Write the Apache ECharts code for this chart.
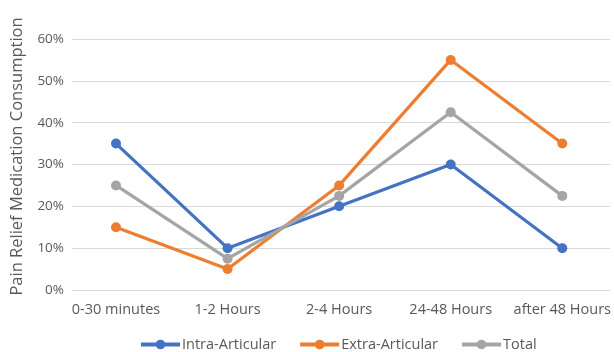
<!DOCTYPE html>
<html>
<head>
<meta charset="utf-8">
<script src="https://cdn.jsdelivr.net/npm/echarts@6/dist/echarts.min.js"></script>
<style>
  html, body { margin: 0; padding: 0; background: #fff; }
  #chart { width: 614px; height: 352px; }
</style>
</head>
<body>
<div id="chart"></div>
<script>
// Time windows after the procedure
const categories = ['0-30 minutes', '1-2 Hours', '2-4 Hours', '24-48 Hours', 'after 48 Hours'];

// Share of patients consuming pain relief medication (%)
const intraArticular = [35, 10, 20, 30, 10];
const extraArticular = [15, 5, 25, 55, 35];
const total = [25, 7.5, 22.5, 42.5, 22.5];

// Value axis ticks
const yMin = 0;
const yMax = 60;
const yStep = 10;

const font = '"Open Sans", "Noto Sans", sans-serif';
const textColor = '#595959';

function lineSeries(name, data, color) {
  return {
    name: name,
    type: 'line',
    xAxisIndex: 0,
    yAxisIndex: 0,
    data: data,
    symbol: 'circle',
    symbolSize: 10,
    lineStyle: { width: 3.2, color: color },
    itemStyle: { color: color },
    emphasis: { disabled: true }
  };
}

const chart = echarts.init(document.getElementById('chart'), null, { renderer: 'canvas' });
chart.setOption({
  animation: false,
  backgroundColor: '#ffffff',
  textStyle: { fontFamily: font },
  // grid 0 holds the lines; grid 1 is wider and carries the horizontal gridlines + tick labels
  grid: [
    { left: 116, right: 49, top: 39, bottom: 62 },
    { left: 72, right: 4, top: 39, bottom: 62 }
  ],
  legend: {
    bottom: 0,
    left: 139,
    itemWidth: 39,
    itemHeight: 12,
    itemGap: 22,
    padding: [0, 0, 0, 0],
    lineStyle: { width: 4 },
    textStyle: { color: textColor, fontSize: 14.5, fontFamily: font, padding: [0, 0, 0, -3] },
    data: ['Intra-Articular', 'Extra-Articular', 'Total']
  },
  xAxis: [
    {
      type: 'category',
      gridIndex: 0,
      data: categories,
      boundaryGap: false,
      axisLine: { show: false },
      axisTick: { show: false },
      splitLine: { show: false },
      axisLabel: { color: textColor, fontSize: 14.5, fontFamily: font, margin: 12, interval: 0 }
    },
    {
      type: 'category',
      gridIndex: 1,
      data: categories,
      show: false
    }
  ],
  yAxis: [
    {
      type: 'value',
      gridIndex: 0,
      min: yMin,
      max: yMax,
      interval: yStep,
      show: false
    },
    {
      type: 'value',
      gridIndex: 1,
      min: yMin,
      max: yMax,
      interval: yStep,
      name: 'Pain Relief Medication Consumption',
      nameLocation: 'middle',
      nameGap: 46,
      nameRotate: 90,
      nameTextStyle: { color: textColor, fontSize: 16.5, fontFamily: font, padding: [0, 0, 0, 16] },
      axisLine: { show: false },
      axisTick: { show: false },
      axisLabel: {
        color: textColor,
        fontSize: 13.5,
        fontFamily: font,
        margin: 8,
        formatter: v => v + '%'
      },
      splitLine: { show: true, lineStyle: { color: '#d9d9d9', width: 1 } }
    }
  ],
  series: [
    lineSeries('Intra-Articular', intraArticular, '#4472c4'),
    lineSeries('Extra-Articular', extraArticular, '#ed7d31'),
    lineSeries('Total', total, '#a5a5a5')
  ]
});
</script>
</body>
</html>
